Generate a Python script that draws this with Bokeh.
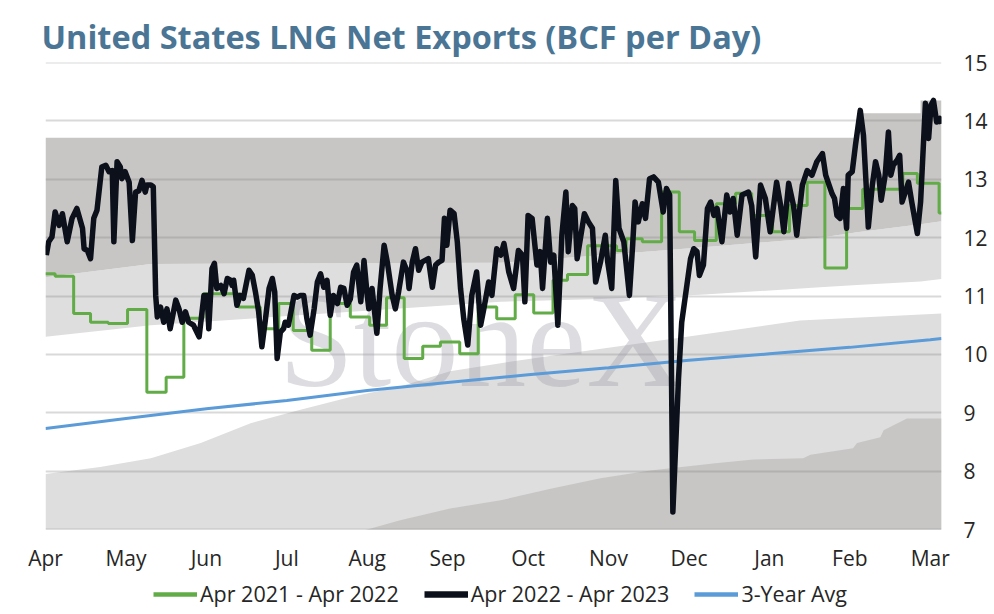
from bokeh.plotting import figure
from bokeh.models import Range1d, FixedTicker, Legend, LegendItem
from bokeh.layouts import column
from bokeh.embed import file_html
from bokeh.resources import INLINE
from bokeh.core.properties import value

# ---------------- data ----------------
months = ["Apr", "May", "Jun", "Jul", "Aug", "Sep", "Oct", "Nov", "Dec", "Jan", "Feb", "Mar"]
month_pos = list(range(12))
y_ticks = [7, 8, 9, 10, 11, 12, 13, 14, 15]
series_names = ["Apr 2021 - Apr 2022", "Apr 2022 - Apr 2023", "3-Year Avg"]

# Apr 2022 - Apr 2023 (position in months since Apr 1, value BCF/d)
black_t = [0.01, 0.04, 0.08, 0.12, 0.17, 0.21, 0.27, 0.33, 0.39, 0.46, 0.48, 0.52, 0.56, 0.60, 0.64, 0.70, 0.75, 0.79, 0.83, 0.85,
           0.89, 0.93, 0.95, 0.99, 1.04, 1.08, 1.12, 1.16, 1.20, 1.24, 1.26, 1.31, 1.34, 1.37, 1.39, 1.43, 1.47, 1.51, 1.55, 1.62,
           1.66, 1.70, 1.74, 1.78, 1.84, 1.91,
           1.97, 2.01, 2.03, 2.07, 2.10, 2.13, 2.18, 2.22, 2.26, 2.30, 2.32, 2.34, 2.38, 2.42, 2.46, 2.53, 2.57, 2.61, 2.65, 2.69,
           2.73, 2.78, 2.82, 2.85, 2.88, 2.92, 2.96, 2.98, 3.02, 3.09, 3.13, 3.17, 3.21, 3.25, 3.29, 3.34, 3.38, 3.42, 3.46, 3.50,
           3.54, 3.58, 3.63, 3.67, 3.71, 3.75, 3.79, 3.83,
           3.87, 3.92, 3.96, 4.00, 4.02, 4.06, 4.12, 4.16, 4.21, 4.25, 4.31, 4.35, 4.39, 4.45, 4.50, 4.52, 4.56, 4.60, 4.64, 4.68,
           4.72, 4.76, 4.81, 4.85, 4.89, 4.93, 4.96, 4.99, 5.03, 5.08, 5.12, 5.16, 5.20, 5.25, 5.30, 5.36, 5.41, 5.45, 5.51, 5.55,
           5.61, 5.66, 5.70, 5.74,
           5.76, 5.82, 5.88, 5.93, 5.96, 6.00, 6.05, 6.11, 6.15, 6.18, 6.24, 6.28, 6.32, 6.37, 6.42, 6.47, 6.50, 6.55, 6.58, 6.61,
           6.65, 6.70, 6.75, 6.80, 6.84, 6.90, 6.96, 6.99, 7.04, 7.09, 7.13, 7.19, 7.26, 7.30, 7.33, 7.37, 7.42, 7.46, 7.51, 7.56,
           7.62, 7.66,
           7.68, 7.72, 7.76, 7.80, 7.87, 7.91, 7.98, 8.02, 8.06, 8.10, 8.13, 8.18, 8.23, 8.27, 8.31, 8.35, 8.41, 8.47, 8.51, 8.55,
           8.60, 8.66, 8.74, 8.78, 8.83, 8.89, 8.95, 9.01, 9.09, 9.14, 9.18, 9.24, 9.30, 9.34, 9.41, 9.47, 9.53, 9.59, 9.66, 9.70,
           9.78, 9.81, 9.84, 9.88, 9.92, 9.96, 9.98, 10.03, 10.07, 10.13, 10.17, 10.21, 10.23, 10.28, 10.32, 10.36, 10.39, 10.44,
           10.48, 10.51, 10.54, 10.59, 10.62, 10.65, 10.69, 10.73, 10.77, 10.84, 10.88, 10.94, 10.98, 11.01, 11.04, 11.08, 11.12, 11.14]
black_v = [11.70, 11.93, 12.01, 12.44, 12.21, 12.41, 11.93, 12.33, 12.50, 12.16, 11.81, 11.78, 11.64, 12.33, 12.47, 13.21, 13.24, 13.13, 13.15, 11.93,
           13.30, 13.21, 13.01, 13.13, 12.95, 11.95, 12.78, 12.80, 12.98, 12.78, 12.90, 12.90, 12.87, 11.01, 10.64, 10.81, 10.55, 10.78, 10.44, 10.93,
           10.78, 10.55, 10.73, 10.55, 10.50, 10.30,
           11.01, 11.01, 10.44, 11.47, 11.56, 11.13, 11.18, 11.04, 11.30, 11.27, 11.18, 11.27, 10.84, 11.01, 10.96, 11.44, 11.36, 11.07, 10.73, 10.13,
           10.55, 11.13, 11.30, 11.07, 9.93, 10.38, 10.44, 10.55, 10.50, 11.01, 10.98, 11.01, 11.01, 10.61, 10.33, 10.78, 11.24, 11.38, 11.15, 11.27,
           10.67, 11.01, 10.87, 11.15, 11.13, 10.84, 10.95, 11.41,
           11.53, 10.90, 11.61, 11.01, 10.78, 11.13, 10.36, 11.13, 11.87, 11.58, 11.01, 10.78, 11.07, 11.58, 11.41, 11.13, 11.58, 11.81, 11.44, 11.58,
           11.61, 11.64, 11.15, 11.53, 11.58, 11.61, 12.33, 11.87, 12.47, 12.41, 11.93, 11.13, 10.61, 10.16, 11.01, 11.41, 10.50, 10.78, 11.24, 11.01,
           11.81, 11.70, 11.90, 11.58,
           11.41, 11.13, 11.78, 11.70, 10.90, 12.38, 12.33, 11.53, 11.76, 11.13, 12.33, 11.58, 11.70, 10.50, 12.04, 12.78, 11.76, 12.55, 12.50, 11.64,
           11.98, 12.41, 12.27, 12.16, 11.24, 11.58, 12.04, 11.58, 11.13, 12.98, 12.16, 11.93, 11.01, 11.87, 12.61, 12.27, 12.58, 12.33, 13.01, 13.04,
           12.95, 12.61,
           12.44, 12.84, 12.73, 7.30, 9.58, 10.55, 11.24, 11.64, 11.81, 11.76, 11.35, 11.53, 12.50, 12.61, 12.38, 12.50, 11.93, 12.73, 12.44, 12.67,
           12.04, 12.73, 12.78, 12.55, 11.67, 12.90, 12.67, 12.10, 12.95, 12.55, 12.10, 12.93, 12.55, 12.04, 12.90, 13.15, 13.07, 13.30, 13.44, 13.07,
           12.75, 12.67, 12.38, 12.33, 12.84, 12.16, 13.07, 13.13, 13.58, 14.18, 13.75, 12.73, 12.18, 12.90, 13.30, 13.07, 12.64, 13.07,
           13.81, 13.07, 13.24, 13.33, 13.41, 12.61, 12.78, 12.95, 12.61, 12.07, 12.61, 14.30, 13.70, 14.27, 14.35, 13.98, 14.04, 13.95]

# Apr 2021 - Apr 2022 (step series: start of each level, level)
green_t = [0.00, 0.12, 0.35, 0.56, 0.78, 1.02, 1.26, 1.50, 1.72, 1.96, 2.40, 2.67, 2.90, 3.08, 3.31, 3.54, 3.79, 4.03, 4.24, 4.46,
           4.69, 4.91, 5.15, 5.38, 5.61, 5.84, 6.07, 6.31, 6.49, 6.74, 7.10, 7.22, 7.42, 7.66, 7.88, 8.07, 8.34, 8.58, 8.78, 9.04,
           9.25, 9.47, 9.69, 9.96, 10.16, 10.66, 10.84, 11.11, 11.14]
green_v = [11.38, 11.34, 10.70, 10.55, 10.53, 10.77, 9.35, 9.61, 10.62, 11.04, 10.81, 10.44, 10.87, 10.41, 10.07, 10.87, 10.64, 10.50, 10.97, 9.93,
           10.14, 10.21, 10.01, 10.81, 10.61, 11.02, 10.71, 11.27, 11.37, 11.86, 11.78, 11.98, 11.93, 12.78, 12.10, 11.95, 12.58, 12.76, 12.38, 12.10,
           12.55, 12.95, 11.48, 12.50, 12.83, 13.10, 12.93, 12.42, 12.42]

# 3-Year Avg
avg_t = [0, 1, 2, 3, 4, 5, 6, 7, 8, 9, 10, 11, 11.14]
avg_v = [8.73, 8.90, 9.07, 9.21, 9.38, 9.52, 9.65, 9.77, 9.90, 10.01, 10.12, 10.25, 10.27]

# Historical ranges (upper range: light part low..mid, dark part mid..top)
hi_t = [0, 1.31, 5.66, 6.90, 8.14, 9.63, 10.09, 10.09, 10.88, 10.88, 11.14]
hi_top = [13.71, 13.71, 13.71, 13.71, 13.71, 13.71, 13.71, 14.13, 14.13, 14.35, 14.35]
hi_mid = [11.32, 11.55, 11.57, 11.70, 11.83, 12.00, 12.09, 12.09, 12.23, 12.23, 12.28]
hi_low = [10.30, 10.50, 10.90, 10.95, 11.02, 11.15, 11.19, 11.19, 11.25, 11.25, 11.29]
# lower range (light), and its darker core
lo_t = [0, 0.68, 1.31, 1.93, 2.55, 3.17, 3.79, 4.41, 5.03, 5.66, 6.40, 8.02, 9.38, 11.14]
lo_top = [7.95, 8.07, 8.22, 8.48, 8.82, 9.05, 9.27, 9.45, 9.71, 9.85, 10.00, 10.31, 10.58, 10.70]
lodk_t = [3.73, 4.00, 4.41, 5.03, 5.66, 6.28, 6.90, 7.52, 8.30, 8.80, 9.42, 9.51, 10.04, 10.09, 10.38, 10.42, 10.71, 11.14]
lodk_top = [6.90, 7.00, 7.16, 7.36, 7.50, 7.70, 7.88, 8.01, 8.13, 8.20, 8.22, 8.28, 8.39, 8.48, 8.58, 8.70, 8.90, 8.90]

# ---------------- styling ----------------
LIGHT = "#dedede"
DARK = "#c8c6c5"
FONT = "Open Sans"
TXT = "#262626"
C_GREEN, C_BLACK, C_BLUE = "#62ac48", "#0b101a", "#5b9bd8"

p = figure(width=990, height=575, output_backend="svg", toolbar_location=None,
           x_range=Range1d(0, 11.14), y_range=Range1d(7, 15),
           y_axis_location="right",
           min_border_left=45, min_border_right=49, min_border_top=62, min_border_bottom=46)
p.outline_line_color = None
p.xgrid.visible = False
p.ygrid.visible = False

p.title.text = "United States LNG Net Exports (BCF per Day)"
p.title.text_font = FONT
p.title.text_font_style = "bold"
p.title.text_font_size = "32.5px"
p.title.text_color = "#4a7594"
p.title.align = "left"
p.title.offset = -4
p.title.standoff = 7

# bands
p.varea(x=lo_t, y1=6.0, y2=lo_top, fill_color=LIGHT)
p.varea(x=lodk_t, y1=6.0, y2=lodk_top, fill_color=DARK)
p.varea(x=hi_t, y1=hi_low, y2=hi_mid, fill_color=LIGHT)
p.varea(x=hi_t, y1=hi_mid, y2=hi_top, fill_color=DARK)

# grid lines over bands
p.hspan(y=y_ticks, line_color="#808080", line_alpha=0.3, line_width=2)

# watermark
p.text(x=[2.90], y=[10.24], text=["StoneX"], text_font=value("Liberation Serif"),
       text_font_size="135px", text_color="#9a9aa6", text_alpha=0.34,
       text_baseline="alphabetic", text_align="left")

p.line(avg_t, avg_v, line_color=C_BLUE, line_width=3)
p.step(green_t, green_v, mode="after", line_color=C_GREEN, line_width=3)
p.line(black_t, black_v, line_color=C_BLACK, line_width=5.5, line_join="round")

# axes
p.xaxis.ticker = FixedTicker(ticks=month_pos)
p.xaxis.major_label_overrides = {i: m for i, m in zip(month_pos, months)}
p.yaxis.ticker = FixedTicker(ticks=y_ticks)
for ax in (p.xaxis[0], p.yaxis[0]):
    ax.axis_line_color = None
    ax.major_tick_line_color = None
    ax.minor_tick_line_color = None
    ax.major_tick_out = 0
    ax.major_tick_in = 0
    ax.minor_tick_out = 0
    ax.major_label_text_font = FONT
    ax.major_label_text_font_size = "21px"
    ax.major_label_text_color = TXT
p.xaxis.major_label_standoff = 14
p.yaxis.major_label_standoff = 22

# ---- legend strip (separate figure under the chart) ----
lg = figure(width=990, height=37, output_backend="svg", toolbar_location=None,
            x_axis_type=None, y_axis_type=None, x_range=Range1d(0, 1), y_range=Range1d(0, 1),
            min_border_left=0, min_border_right=0, min_border_top=0, min_border_bottom=0)
lg.outline_line_color = None
lg.xgrid.visible = False
lg.ygrid.visible = False
# off-range proxy renderers that only supply the legend swatches
d_green = lg.line(x=[-10, -9], y=[-10, -9], line_color=C_GREEN, line_width=4.5)
d_black = lg.line(x=[-10, -9], y=[-10, -9], line_color=C_BLACK, line_width=6.5)
d_blue = lg.line(x=[-10, -9], y=[-10, -9], line_color=C_BLUE, line_width=4.5)
legend = Legend(items=[LegendItem(label=series_names[0], renderers=[d_green]),
                       LegendItem(label=series_names[1], renderers=[d_black]),
                       LegendItem(label=series_names[2], renderers=[d_blue])],
                orientation="horizontal", location=(108, 4),
                glyph_width=44, glyph_height=20, label_standoff=3, spacing=25,
                padding=0, margin=0, border_line_color=None, background_fill_alpha=0,
                label_text_font=FONT, label_text_font_size="21.5px", label_text_color=TXT)
lg.add_layout(legend)

layout = column(p, lg, spacing=0)
open("out.html", "w").write(file_html(layout, INLINE))
